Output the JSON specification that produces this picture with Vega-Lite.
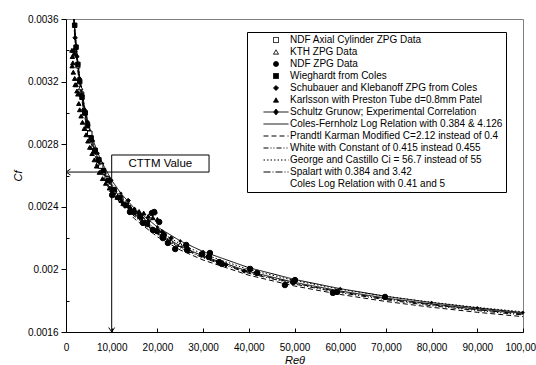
{
  "$schema": "https://vega.github.io/schema/vega-lite/v6.json",
  "width": 457,
  "height": 313,
  "autosize": {"type": "none"},
  "padding": {"left": 66, "top": 19, "right": 13, "bottom": 33},
  "config": {
    "font": "Liberation Sans",
    "view": {"stroke": "#808080", "strokeWidth": 1},
    "axis": {"grid": false, "domainColor": "#000", "tickColor": "#000", "labelColor": "#000", "labelFontSize": 10, "labelFont": "Liberation Sans", "titleFont": "Liberation Sans", "titleFontWeight": "normal", "titleFontStyle": "italic", "titleFontSize": 11, "titleColor": "#000", "labelOverlap": false, "labelFlush": false},
    "legend": {"orient": "none", "legendX": 181, "legendY": 13, "padding": 3, "strokeColor": "#000", "strokeWidth": 1, "fillColor": "#fff", "symbolSize": 25, "symbolStrokeWidth": 1, "labelFont": "Liberation Sans", "labelFontSize": 10, "labelColor": "#000", "rowPadding": 2, "symbolOffset": 21, "labelOffset": 9, "labelLimit": 400}
  },
  "datasets": {
    "lines": [
      {"Re": 1700, "Cf": 0.003622, "series": "Coles-Fernholz Log Relation with 0.384 & 4.126"},
      {"Re": 2000, "Cf": 0.003495, "series": "Coles-Fernholz Log Relation with 0.384 & 4.126"},
      {"Re": 2500, "Cf": 0.003331, "series": "Coles-Fernholz Log Relation with 0.384 & 4.126"},
      {"Re": 3000, "Cf": 0.003206, "series": "Coles-Fernholz Log Relation with 0.384 & 4.126"},
      {"Re": 4000, "Cf": 0.003022, "series": "Coles-Fernholz Log Relation with 0.384 & 4.126"},
      {"Re": 5000, "Cf": 0.00289, "series": "Coles-Fernholz Log Relation with 0.384 & 4.126"},
      {"Re": 6000, "Cf": 0.002788, "series": "Coles-Fernholz Log Relation with 0.384 & 4.126"},
      {"Re": 7000, "Cf": 0.002707, "series": "Coles-Fernholz Log Relation with 0.384 & 4.126"},
      {"Re": 8000, "Cf": 0.002639, "series": "Coles-Fernholz Log Relation with 0.384 & 4.126"},
      {"Re": 10000, "Cf": 0.002531, "series": "Coles-Fernholz Log Relation with 0.384 & 4.126"},
      {"Re": 12000, "Cf": 0.002447, "series": "Coles-Fernholz Log Relation with 0.384 & 4.126"},
      {"Re": 15000, "Cf": 0.002351, "series": "Coles-Fernholz Log Relation with 0.384 & 4.126"},
      {"Re": 20000, "Cf": 0.002235, "series": "Coles-Fernholz Log Relation with 0.384 & 4.126"},
      {"Re": 25000, "Cf": 0.00215, "series": "Coles-Fernholz Log Relation with 0.384 & 4.126"},
      {"Re": 30000, "Cf": 0.002085, "series": "Coles-Fernholz Log Relation with 0.384 & 4.126"},
      {"Re": 40000, "Cf": 0.001987, "series": "Coles-Fernholz Log Relation with 0.384 & 4.126"},
      {"Re": 50000, "Cf": 0.001917, "series": "Coles-Fernholz Log Relation with 0.384 & 4.126"},
      {"Re": 60000, "Cf": 0.001862, "series": "Coles-Fernholz Log Relation with 0.384 & 4.126"},
      {"Re": 70000, "Cf": 0.001817, "series": "Coles-Fernholz Log Relation with 0.384 & 4.126"},
      {"Re": 80000, "Cf": 0.001779, "series": "Coles-Fernholz Log Relation with 0.384 & 4.126"},
      {"Re": 90000, "Cf": 0.001747, "series": "Coles-Fernholz Log Relation with 0.384 & 4.126"},
      {"Re": 100000, "Cf": 0.001719, "series": "Coles-Fernholz Log Relation with 0.384 & 4.126"},
      {"Re": 1700, "Cf": 0.003579, "series": "Prandtl Karman Modified C=2.12 instead of 0.4"},
      {"Re": 2000, "Cf": 0.003453, "series": "Prandtl Karman Modified C=2.12 instead of 0.4"},
      {"Re": 2500, "Cf": 0.003291, "series": "Prandtl Karman Modified C=2.12 instead of 0.4"},
      {"Re": 3000, "Cf": 0.003168, "series": "Prandtl Karman Modified C=2.12 instead of 0.4"},
      {"Re": 4000, "Cf": 0.002986, "series": "Prandtl Karman Modified C=2.12 instead of 0.4"},
      {"Re": 5000, "Cf": 0.002855, "series": "Prandtl Karman Modified C=2.12 instead of 0.4"},
      {"Re": 6000, "Cf": 0.002755, "series": "Prandtl Karman Modified C=2.12 instead of 0.4"},
      {"Re": 7000, "Cf": 0.002675, "series": "Prandtl Karman Modified C=2.12 instead of 0.4"},
      {"Re": 8000, "Cf": 0.002607, "series": "Prandtl Karman Modified C=2.12 instead of 0.4"},
      {"Re": 10000, "Cf": 0.002501, "series": "Prandtl Karman Modified C=2.12 instead of 0.4"},
      {"Re": 12000, "Cf": 0.002418, "series": "Prandtl Karman Modified C=2.12 instead of 0.4"},
      {"Re": 15000, "Cf": 0.002323, "series": "Prandtl Karman Modified C=2.12 instead of 0.4"},
      {"Re": 20000, "Cf": 0.002208, "series": "Prandtl Karman Modified C=2.12 instead of 0.4"},
      {"Re": 25000, "Cf": 0.002124, "series": "Prandtl Karman Modified C=2.12 instead of 0.4"},
      {"Re": 30000, "Cf": 0.00206, "series": "Prandtl Karman Modified C=2.12 instead of 0.4"},
      {"Re": 40000, "Cf": 0.001963, "series": "Prandtl Karman Modified C=2.12 instead of 0.4"},
      {"Re": 50000, "Cf": 0.001894, "series": "Prandtl Karman Modified C=2.12 instead of 0.4"},
      {"Re": 60000, "Cf": 0.00184, "series": "Prandtl Karman Modified C=2.12 instead of 0.4"},
      {"Re": 70000, "Cf": 0.001795, "series": "Prandtl Karman Modified C=2.12 instead of 0.4"},
      {"Re": 80000, "Cf": 0.001758, "series": "Prandtl Karman Modified C=2.12 instead of 0.4"},
      {"Re": 90000, "Cf": 0.001726, "series": "Prandtl Karman Modified C=2.12 instead of 0.4"},
      {"Re": 100000, "Cf": 0.001698, "series": "Prandtl Karman Modified C=2.12 instead of 0.4"},
      {"Re": 1700, "Cf": 0.0036, "series": "White with Constant of 0.415 instead 0.455"},
      {"Re": 2000, "Cf": 0.003474, "series": "White with Constant of 0.415 instead 0.455"},
      {"Re": 2500, "Cf": 0.003311, "series": "White with Constant of 0.415 instead 0.455"},
      {"Re": 3000, "Cf": 0.003187, "series": "White with Constant of 0.415 instead 0.455"},
      {"Re": 4000, "Cf": 0.003004, "series": "White with Constant of 0.415 instead 0.455"},
      {"Re": 5000, "Cf": 0.002873, "series": "White with Constant of 0.415 instead 0.455"},
      {"Re": 6000, "Cf": 0.002771, "series": "White with Constant of 0.415 instead 0.455"},
      {"Re": 7000, "Cf": 0.002691, "series": "White with Constant of 0.415 instead 0.455"},
      {"Re": 8000, "Cf": 0.002623, "series": "White with Constant of 0.415 instead 0.455"},
      {"Re": 10000, "Cf": 0.002516, "series": "White with Constant of 0.415 instead 0.455"},
      {"Re": 12000, "Cf": 0.002432, "series": "White with Constant of 0.415 instead 0.455"},
      {"Re": 15000, "Cf": 0.002337, "series": "White with Constant of 0.415 instead 0.455"},
      {"Re": 20000, "Cf": 0.002222, "series": "White with Constant of 0.415 instead 0.455"},
      {"Re": 25000, "Cf": 0.002137, "series": "White with Constant of 0.415 instead 0.455"},
      {"Re": 30000, "Cf": 0.002073, "series": "White with Constant of 0.415 instead 0.455"},
      {"Re": 40000, "Cf": 0.001975, "series": "White with Constant of 0.415 instead 0.455"},
      {"Re": 50000, "Cf": 0.001906, "series": "White with Constant of 0.415 instead 0.455"},
      {"Re": 60000, "Cf": 0.001851, "series": "White with Constant of 0.415 instead 0.455"},
      {"Re": 70000, "Cf": 0.001806, "series": "White with Constant of 0.415 instead 0.455"},
      {"Re": 80000, "Cf": 0.001768, "series": "White with Constant of 0.415 instead 0.455"},
      {"Re": 90000, "Cf": 0.001737, "series": "White with Constant of 0.415 instead 0.455"},
      {"Re": 100000, "Cf": 0.001709, "series": "White with Constant of 0.415 instead 0.455"},
      {"Re": 1700, "Cf": 0.003644, "series": "George and Castillo Ci = 56.7 instead of 55"},
      {"Re": 2000, "Cf": 0.003516, "series": "George and Castillo Ci = 56.7 instead of 55"},
      {"Re": 2500, "Cf": 0.003351, "series": "George and Castillo Ci = 56.7 instead of 55"},
      {"Re": 3000, "Cf": 0.003225, "series": "George and Castillo Ci = 56.7 instead of 55"},
      {"Re": 4000, "Cf": 0.00304, "series": "George and Castillo Ci = 56.7 instead of 55"},
      {"Re": 5000, "Cf": 0.002907, "series": "George and Castillo Ci = 56.7 instead of 55"},
      {"Re": 6000, "Cf": 0.002805, "series": "George and Castillo Ci = 56.7 instead of 55"},
      {"Re": 7000, "Cf": 0.002723, "series": "George and Castillo Ci = 56.7 instead of 55"},
      {"Re": 8000, "Cf": 0.002655, "series": "George and Castillo Ci = 56.7 instead of 55"},
      {"Re": 10000, "Cf": 0.002546, "series": "George and Castillo Ci = 56.7 instead of 55"},
      {"Re": 12000, "Cf": 0.002462, "series": "George and Castillo Ci = 56.7 instead of 55"},
      {"Re": 15000, "Cf": 0.002365, "series": "George and Castillo Ci = 56.7 instead of 55"},
      {"Re": 20000, "Cf": 0.002248, "series": "George and Castillo Ci = 56.7 instead of 55"},
      {"Re": 25000, "Cf": 0.002163, "series": "George and Castillo Ci = 56.7 instead of 55"},
      {"Re": 30000, "Cf": 0.002098, "series": "George and Castillo Ci = 56.7 instead of 55"},
      {"Re": 40000, "Cf": 0.001999, "series": "George and Castillo Ci = 56.7 instead of 55"},
      {"Re": 50000, "Cf": 0.001929, "series": "George and Castillo Ci = 56.7 instead of 55"},
      {"Re": 60000, "Cf": 0.001873, "series": "George and Castillo Ci = 56.7 instead of 55"},
      {"Re": 70000, "Cf": 0.001828, "series": "George and Castillo Ci = 56.7 instead of 55"},
      {"Re": 80000, "Cf": 0.00179, "series": "George and Castillo Ci = 56.7 instead of 55"},
      {"Re": 90000, "Cf": 0.001757, "series": "George and Castillo Ci = 56.7 instead of 55"},
      {"Re": 100000, "Cf": 0.001729, "series": "George and Castillo Ci = 56.7 instead of 55"},
      {"Re": 1700, "Cf": 0.003611, "series": "Spalart with 0.384 and 3.42"},
      {"Re": 2000, "Cf": 0.003485, "series": "Spalart with 0.384 and 3.42"},
      {"Re": 2500, "Cf": 0.003321, "series": "Spalart with 0.384 and 3.42"},
      {"Re": 3000, "Cf": 0.003196, "series": "Spalart with 0.384 and 3.42"},
      {"Re": 4000, "Cf": 0.003013, "series": "Spalart with 0.384 and 3.42"},
      {"Re": 5000, "Cf": 0.002881, "series": "Spalart with 0.384 and 3.42"},
      {"Re": 6000, "Cf": 0.00278, "series": "Spalart with 0.384 and 3.42"},
      {"Re": 7000, "Cf": 0.002699, "series": "Spalart with 0.384 and 3.42"},
      {"Re": 8000, "Cf": 0.002631, "series": "Spalart with 0.384 and 3.42"},
      {"Re": 10000, "Cf": 0.002523, "series": "Spalart with 0.384 and 3.42"},
      {"Re": 12000, "Cf": 0.00244, "series": "Spalart with 0.384 and 3.42"},
      {"Re": 15000, "Cf": 0.002344, "series": "Spalart with 0.384 and 3.42"},
      {"Re": 20000, "Cf": 0.002228, "series": "Spalart with 0.384 and 3.42"},
      {"Re": 25000, "Cf": 0.002144, "series": "Spalart with 0.384 and 3.42"},
      {"Re": 30000, "Cf": 0.002079, "series": "Spalart with 0.384 and 3.42"},
      {"Re": 40000, "Cf": 0.001981, "series": "Spalart with 0.384 and 3.42"},
      {"Re": 50000, "Cf": 0.001911, "series": "Spalart with 0.384 and 3.42"},
      {"Re": 60000, "Cf": 0.001856, "series": "Spalart with 0.384 and 3.42"},
      {"Re": 70000, "Cf": 0.001812, "series": "Spalart with 0.384 and 3.42"},
      {"Re": 80000, "Cf": 0.001774, "series": "Spalart with 0.384 and 3.42"},
      {"Re": 90000, "Cf": 0.001742, "series": "Spalart with 0.384 and 3.42"},
      {"Re": 100000, "Cf": 0.001714, "series": "Spalart with 0.384 and 3.42"},
      {"Re": 1700, "Cf": 0.003629, "series": "Schultz Grunow; Experimental Correlation"},
      {"Re": 2000, "Cf": 0.003509, "series": "Schultz Grunow; Experimental Correlation"},
      {"Re": 2500, "Cf": 0.003351, "series": "Schultz Grunow; Experimental Correlation"},
      {"Re": 3000, "Cf": 0.003228, "series": "Schultz Grunow; Experimental Correlation"},
      {"Re": 4000, "Cf": 0.003049, "series": "Schultz Grunow; Experimental Correlation"},
      {"Re": 5000, "Cf": 0.002922, "series": "Schultz Grunow; Experimental Correlation"},
      {"Re": 6000, "Cf": 0.002821, "series": "Schultz Grunow; Experimental Correlation"},
      {"Re": 7000, "Cf": 0.002742, "series": "Schultz Grunow; Experimental Correlation"},
      {"Re": 8000, "Cf": 0.002676, "series": "Schultz Grunow; Experimental Correlation"},
      {"Re": 10000, "Cf": 0.002569, "series": "Schultz Grunow; Experimental Correlation"},
      {"Re": 12000, "Cf": 0.002486, "series": "Schultz Grunow; Experimental Correlation"},
      {"Re": 15000, "Cf": 0.002389, "series": "Schultz Grunow; Experimental Correlation"},
      {"Re": 20000, "Cf": 0.002271, "series": "Schultz Grunow; Experimental Correlation"},
      {"Re": 25000, "Cf": 0.002182, "series": "Schultz Grunow; Experimental Correlation"},
      {"Re": 30000, "Cf": 0.002114, "series": "Schultz Grunow; Experimental Correlation"},
      {"Re": 40000, "Cf": 0.002011, "series": "Schultz Grunow; Experimental Correlation"},
      {"Re": 50000, "Cf": 0.001936, "series": "Schultz Grunow; Experimental Correlation"},
      {"Re": 60000, "Cf": 0.001877, "series": "Schultz Grunow; Experimental Correlation"},
      {"Re": 70000, "Cf": 0.001828, "series": "Schultz Grunow; Experimental Correlation"},
      {"Re": 80000, "Cf": 0.001788, "series": "Schultz Grunow; Experimental Correlation"},
      {"Re": 90000, "Cf": 0.001754, "series": "Schultz Grunow; Experimental Correlation"},
      {"Re": 100000, "Cf": 0.001724, "series": "Schultz Grunow; Experimental Correlation"}
    ],
    "points": [
      {"Re": 3400, "Cf": 0.00312, "series": "NDF Axial Cylinder ZPG Data"},
      {"Re": 4200, "Cf": 0.003, "series": "NDF Axial Cylinder ZPG Data"},
      {"Re": 5200, "Cf": 0.00287, "series": "NDF Axial Cylinder ZPG Data"},
      {"Re": 6400, "Cf": 0.00276, "series": "NDF Axial Cylinder ZPG Data"},
      {"Re": 7600, "Cf": 0.00266, "series": "NDF Axial Cylinder ZPG Data"},
      {"Re": 9000, "Cf": 0.00258, "series": "NDF Axial Cylinder ZPG Data"},
      {"Re": 10500, "Cf": 0.0025, "series": "NDF Axial Cylinder ZPG Data"},
      {"Re": 12000, "Cf": 0.00245, "series": "NDF Axial Cylinder ZPG Data"},
      {"Re": 2600, "Cf": 0.0033, "series": "KTH ZPG Data"},
      {"Re": 3200, "Cf": 0.00316, "series": "KTH ZPG Data"},
      {"Re": 3900, "Cf": 0.00303, "series": "KTH ZPG Data"},
      {"Re": 4800, "Cf": 0.0029, "series": "KTH ZPG Data"},
      {"Re": 5800, "Cf": 0.00278, "series": "KTH ZPG Data"},
      {"Re": 7000, "Cf": 0.00268, "series": "KTH ZPG Data"},
      {"Re": 8300, "Cf": 0.00262, "series": "KTH ZPG Data"},
      {"Re": 9600, "Cf": 0.00254, "series": "KTH ZPG Data"},
      {"Re": 11000, "Cf": 0.00248, "series": "KTH ZPG Data"},
      {"Re": 12500, "Cf": 0.00242, "series": "KTH ZPG Data"},
      {"Re": 14000, "Cf": 0.00238, "series": "KTH ZPG Data"},
      {"Re": 15500, "Cf": 0.00236, "series": "KTH ZPG Data"},
      {"Re": 17000, "Cf": 0.00232, "series": "KTH ZPG Data"},
      {"Re": 19000, "Cf": 0.00226, "series": "KTH ZPG Data"},
      {"Re": 21000, "Cf": 0.00222, "series": "KTH ZPG Data"},
      {"Re": 23000, "Cf": 0.00218, "series": "KTH ZPG Data"},
      {"Re": 25000, "Cf": 0.00216, "series": "KTH ZPG Data"},
      {"Re": 27000, "Cf": 0.00212, "series": "KTH ZPG Data"},
      {"Re": 10100, "Cf": 0.002475, "series": "NDF ZPG Data"},
      {"Re": 14000, "Cf": 0.002367, "series": "NDF ZPG Data"},
      {"Re": 16850, "Cf": 0.002297, "series": "NDF ZPG Data"},
      {"Re": 18800, "Cf": 0.00236, "series": "NDF ZPG Data"},
      {"Re": 19300, "Cf": 0.002367, "series": "NDF ZPG Data"},
      {"Re": 20400, "Cf": 0.002303, "series": "NDF ZPG Data"},
      {"Re": 19000, "Cf": 0.002252, "series": "NDF ZPG Data"},
      {"Re": 19900, "Cf": 0.002245, "series": "NDF ZPG Data"},
      {"Re": 21400, "Cf": 0.00222, "series": "NDF ZPG Data"},
      {"Re": 21200, "Cf": 0.0022, "series": "NDF ZPG Data"},
      {"Re": 22300, "Cf": 0.002169, "series": "NDF ZPG Data"},
      {"Re": 23900, "Cf": 0.00213, "series": "NDF ZPG Data"},
      {"Re": 26300, "Cf": 0.002156, "series": "NDF ZPG Data"},
      {"Re": 26500, "Cf": 0.002124, "series": "NDF ZPG Data"},
      {"Re": 29800, "Cf": 0.002098, "series": "NDF ZPG Data"},
      {"Re": 31500, "Cf": 0.002105, "series": "NDF ZPG Data"},
      {"Re": 31300, "Cf": 0.002079, "series": "NDF ZPG Data"},
      {"Re": 33500, "Cf": 0.002047, "series": "NDF ZPG Data"},
      {"Re": 34100, "Cf": 0.002035, "series": "NDF ZPG Data"},
      {"Re": 40300, "Cf": 0.002003, "series": "NDF ZPG Data"},
      {"Re": 41800, "Cf": 0.001977, "series": "NDF ZPG Data"},
      {"Re": 47900, "Cf": 0.0019, "series": "NDF ZPG Data"},
      {"Re": 49700, "Cf": 0.00192, "series": "NDF ZPG Data"},
      {"Re": 50100, "Cf": 0.001932, "series": "NDF ZPG Data"},
      {"Re": 58400, "Cf": 0.00185, "series": "NDF ZPG Data"},
      {"Re": 59300, "Cf": 0.001856, "series": "NDF ZPG Data"},
      {"Re": 69800, "Cf": 0.001824, "series": "NDF ZPG Data"},
      {"Re": 1900, "Cf": 0.00356, "series": "Wieghardt from Coles"},
      {"Re": 2200, "Cf": 0.00342, "series": "Wieghardt from Coles"},
      {"Re": 2600, "Cf": 0.00331, "series": "Wieghardt from Coles"},
      {"Re": 3000, "Cf": 0.0032, "series": "Wieghardt from Coles"},
      {"Re": 3500, "Cf": 0.0031, "series": "Wieghardt from Coles"},
      {"Re": 4100, "Cf": 0.003, "series": "Wieghardt from Coles"},
      {"Re": 4700, "Cf": 0.00292, "series": "Wieghardt from Coles"},
      {"Re": 5500, "Cf": 0.00284, "series": "Wieghardt from Coles"},
      {"Re": 6300, "Cf": 0.00276, "series": "Wieghardt from Coles"},
      {"Re": 7200, "Cf": 0.0027, "series": "Wieghardt from Coles"},
      {"Re": 8200, "Cf": 0.00263, "series": "Wieghardt from Coles"},
      {"Re": 9300, "Cf": 0.00257, "series": "Wieghardt from Coles"},
      {"Re": 10500, "Cf": 0.00251, "series": "Wieghardt from Coles"},
      {"Re": 11800, "Cf": 0.00246, "series": "Wieghardt from Coles"},
      {"Re": 13200, "Cf": 0.00241, "series": "Wieghardt from Coles"},
      {"Re": 14600, "Cf": 0.00237, "series": "Wieghardt from Coles"},
      {"Re": 16200, "Cf": 0.00234, "series": "Wieghardt from Coles"},
      {"Re": 17800, "Cf": 0.00229, "series": "Wieghardt from Coles"},
      {"Re": 2000, "Cf": 0.00348, "series": "Schubauer and Klebanoff ZPG from Coles"},
      {"Re": 2400, "Cf": 0.00336, "series": "Schubauer and Klebanoff ZPG from Coles"},
      {"Re": 2900, "Cf": 0.00322, "series": "Schubauer and Klebanoff ZPG from Coles"},
      {"Re": 3400, "Cf": 0.00312, "series": "Schubauer and Klebanoff ZPG from Coles"},
      {"Re": 4000, "Cf": 0.00302, "series": "Schubauer and Klebanoff ZPG from Coles"},
      {"Re": 4700, "Cf": 0.00294, "series": "Schubauer and Klebanoff ZPG from Coles"},
      {"Re": 5500, "Cf": 0.00283, "series": "Schubauer and Klebanoff ZPG from Coles"},
      {"Re": 6300, "Cf": 0.00275, "series": "Schubauer and Klebanoff ZPG from Coles"},
      {"Re": 7100, "Cf": 0.00269, "series": "Schubauer and Klebanoff ZPG from Coles"},
      {"Re": 8000, "Cf": 0.00263, "series": "Schubauer and Klebanoff ZPG from Coles"},
      {"Re": 9000, "Cf": 0.00257, "series": "Schubauer and Klebanoff ZPG from Coles"},
      {"Re": 10000, "Cf": 0.0025, "series": "Schubauer and Klebanoff ZPG from Coles"},
      {"Re": 11200, "Cf": 0.00246, "series": "Schubauer and Klebanoff ZPG from Coles"},
      {"Re": 12500, "Cf": 0.00242, "series": "Schubauer and Klebanoff ZPG from Coles"},
      {"Re": 13600, "Cf": 0.00244, "series": "Schubauer and Klebanoff ZPG from Coles"},
      {"Re": 15000, "Cf": 0.00236, "series": "Schubauer and Klebanoff ZPG from Coles"},
      {"Re": 16500, "Cf": 0.00233, "series": "Schubauer and Klebanoff ZPG from Coles"},
      {"Re": 18000, "Cf": 0.00231, "series": "Schubauer and Klebanoff ZPG from Coles"},
      {"Re": 19500, "Cf": 0.00236, "series": "Schubauer and Klebanoff ZPG from Coles"},
      {"Re": 21000, "Cf": 0.00224, "series": "Schubauer and Klebanoff ZPG from Coles"},
      {"Re": 23000, "Cf": 0.0022, "series": "Schubauer and Klebanoff ZPG from Coles"},
      {"Re": 26500, "Cf": 0.00214, "series": "Schubauer and Klebanoff ZPG from Coles"},
      {"Re": 31000, "Cf": 0.00208, "series": "Schubauer and Klebanoff ZPG from Coles"},
      {"Re": 35000, "Cf": 0.00203, "series": "Schubauer and Klebanoff ZPG from Coles"},
      {"Re": 39000, "Cf": 0.00199, "series": "Schubauer and Klebanoff ZPG from Coles"},
      {"Re": 1300, "Cf": 0.0034, "series": "Karlsson with Preston Tube d=0.8mm Patel"},
      {"Re": 1400, "Cf": 0.00336, "series": "Karlsson with Preston Tube d=0.8mm Patel"},
      {"Re": 1500, "Cf": 0.00332, "series": "Karlsson with Preston Tube d=0.8mm Patel"},
      {"Re": 1350, "Cf": 0.0033, "series": "Karlsson with Preston Tube d=0.8mm Patel"},
      {"Re": 1600, "Cf": 0.00326, "series": "Karlsson with Preston Tube d=0.8mm Patel"},
      {"Re": 1700, "Cf": 0.0034, "series": "Karlsson with Preston Tube d=0.8mm Patel"},
      {"Re": 1800, "Cf": 0.00338, "series": "Karlsson with Preston Tube d=0.8mm Patel"},
      {"Re": 1900, "Cf": 0.00322, "series": "Karlsson with Preston Tube d=0.8mm Patel"},
      {"Re": 2000, "Cf": 0.00318, "series": "Karlsson with Preston Tube d=0.8mm Patel"},
      {"Re": 2200, "Cf": 0.00318, "series": "Karlsson with Preston Tube d=0.8mm Patel"},
      {"Re": 2400, "Cf": 0.00314, "series": "Karlsson with Preston Tube d=0.8mm Patel"},
      {"Re": 2600, "Cf": 0.00312, "series": "Karlsson with Preston Tube d=0.8mm Patel"},
      {"Re": 2800, "Cf": 0.00306, "series": "Karlsson with Preston Tube d=0.8mm Patel"},
      {"Re": 3000, "Cf": 0.00302, "series": "Karlsson with Preston Tube d=0.8mm Patel"},
      {"Re": 3300, "Cf": 0.00298, "series": "Karlsson with Preston Tube d=0.8mm Patel"},
      {"Re": 3600, "Cf": 0.00294, "series": "Karlsson with Preston Tube d=0.8mm Patel"},
      {"Re": 4000, "Cf": 0.0029, "series": "Karlsson with Preston Tube d=0.8mm Patel"},
      {"Re": 4400, "Cf": 0.00286, "series": "Karlsson with Preston Tube d=0.8mm Patel"},
      {"Re": 4800, "Cf": 0.00282, "series": "Karlsson with Preston Tube d=0.8mm Patel"},
      {"Re": 5200, "Cf": 0.00278, "series": "Karlsson with Preston Tube d=0.8mm Patel"},
      {"Re": 5700, "Cf": 0.00274, "series": "Karlsson with Preston Tube d=0.8mm Patel"},
      {"Re": 6200, "Cf": 0.0027, "series": "Karlsson with Preston Tube d=0.8mm Patel"},
      {"Re": 6700, "Cf": 0.00266, "series": "Karlsson with Preston Tube d=0.8mm Patel"},
      {"Re": 7300, "Cf": 0.00262, "series": "Karlsson with Preston Tube d=0.8mm Patel"},
      {"Re": 8000, "Cf": 0.00258, "series": "Karlsson with Preston Tube d=0.8mm Patel"},
      {"Re": 8700, "Cf": 0.00255, "series": "Karlsson with Preston Tube d=0.8mm Patel"},
      {"Re": 9500, "Cf": 0.00252, "series": "Karlsson with Preston Tube d=0.8mm Patel"},
      {"Re": 10300, "Cf": 0.00249, "series": "Karlsson with Preston Tube d=0.8mm Patel"},
      {"Re": 11200, "Cf": 0.00246, "series": "Karlsson with Preston Tube d=0.8mm Patel"},
      {"Re": 12100, "Cf": 0.00244, "series": "Karlsson with Preston Tube d=0.8mm Patel"},
      {"Re": 13000, "Cf": 0.00242, "series": "Karlsson with Preston Tube d=0.8mm Patel"},
      {"Re": 14000, "Cf": 0.0024, "series": "Karlsson with Preston Tube d=0.8mm Patel"},
      {"Re": 15000, "Cf": 0.00238, "series": "Karlsson with Preston Tube d=0.8mm Patel"},
      {"Re": 16000, "Cf": 0.00237, "series": "Karlsson with Preston Tube d=0.8mm Patel"},
      {"Re": 17000, "Cf": 0.00236, "series": "Karlsson with Preston Tube d=0.8mm Patel"},
      {"Re": 18000, "Cf": 0.00234, "series": "Karlsson with Preston Tube d=0.8mm Patel"},
      {"Re": 19000, "Cf": 0.00233, "series": "Karlsson with Preston Tube d=0.8mm Patel"},
      {"Re": 20000, "Cf": 0.00232, "series": "Karlsson with Preston Tube d=0.8mm Patel"}
    ],
    "box": [
      {"Re": 10000, "Re2": 31300, "Cf": 0.002622, "Cf2": 0.002731}
    ],
    "label": [
      {"Re": 20650, "Cf": 0.0026765, "text": "CTTM Value"}
    ],
    "arrows": [
      {"Re": 0, "Re2": 10000, "Cf": 0.002622, "Cf2": 0.002622},
      {"Re": 10000, "Re2": 10000, "Cf": 0.002622, "Cf2": 0.0016}
    ],
    "heads": [
      {"Re": 0, "Cf": 0.002622, "dir": "left"},
      {"Re": 10000, "Cf": 0.0016, "dir": "down"}
    ]
  },
  "resolve": {"axis": {"y": "independent"}},
  "layer": [
    {
      "data": {"name": "box"},
      "mark": {"type": "rect", "fill": "#fff", "stroke": "#000", "strokeWidth": 1},
      "encoding": {
        "x": {"field": "Re", "type": "quantitative", "title": "Reθ", "scale": {"domain": [0, 100000], "nice": false, "zero": false},
          "axis": {"values": [0, 10000, 20000, 30000, 40000, 50000, 60000, 70000, 80000, 90000, 100000], "labelExpr": "format(datum.value, ',')", "labelOverlap": false, "labelFlush": false, "tickSize": -4, "labelPadding": 14, "titlePadding": 2}},
        "x2": {"field": "Re2"},
        "y": {"field": "Cf", "type": "quantitative", "scale": {"domain": [0.0016, 0.0036], "nice": false, "zero": false}, "axis": null},
        "y2": {"field": "Cf2"}
      }
    },
    {
      "data": {"name": "label"},
      "mark": {"type": "text", "font": "Liberation Sans", "fontSize": 11.5, "color": "#000", "align": "center", "baseline": "middle"},
      "encoding": {
        "x": {"field": "Re", "type": "quantitative", "title": "Reθ"},
        "y": {"field": "Cf", "type": "quantitative", "axis": null},
        "text": {"field": "text"}
      }
    },
    {
      "data": {"name": "arrows"},
      "mark": {"type": "rule", "color": "#000", "strokeWidth": 1},
      "encoding": {
        "x": {"field": "Re", "type": "quantitative", "title": "Reθ"},
        "x2": {"field": "Re2"},
        "y": {"field": "Cf", "type": "quantitative", "axis": null},
        "y2": {"field": "Cf2"}
      }
    },
    {
      "data": {"name": "heads"},
      "transform": [{"filter": "datum.dir === 'left'"}],
      "mark": {"type": "point", "shape": "M3,-2L0,0L3,2", "size": 9, "filled": false, "stroke": "#000", "strokeWidth": 1, "opacity": 1},
      "encoding": {
        "x": {"field": "Re", "type": "quantitative", "title": "Reθ"},
        "y": {"field": "Cf", "type": "quantitative", "axis": null}
      }
    },
    {
      "data": {"name": "heads"},
      "transform": [{"filter": "datum.dir === 'down'"}],
      "mark": {"type": "point", "shape": "M-2,-3L0,0L2,-3", "size": 9, "filled": false, "stroke": "#000", "strokeWidth": 1, "opacity": 1},
      "encoding": {
        "x": {"field": "Re", "type": "quantitative", "title": "Reθ"},
        "y": {"field": "Cf", "type": "quantitative", "axis": null}
      }
    },
    {
      "data": {"name": "lines"},
      "mark": {"type": "line", "strokeWidth": 1, "clip": true},
      "encoding": {
        "x": {"field": "Re", "type": "quantitative", "title": "Reθ"},
        "y": {"field": "Cf", "type": "quantitative", "title": "Cf", "axis": {"orient": "left", "values": [0.0016, 0.0018, 0.002, 0.0022, 0.0024, 0.0026, 0.0028, 0.003, 0.0032, 0.0034, 0.0036], "format": "~g", "labelExpr": "round(datum.value * 10000) % 4 === 0 ? datum.label : ''", "tickSize": {"condition": {"test": "round(datum.value * 10000) % 4 !== 0", "value": -3}, "value": 5}, "labelPadding": 3, "titlePadding": 4}},
        "detail": {"field": "series"},
        "stroke": {"field": "series", "type": "nominal", "title": null,
          "scale": {"domain": ["NDF Axial Cylinder ZPG Data", "KTH ZPG Data", "NDF ZPG Data", "Wieghardt from Coles", "Schubauer and Klebanoff ZPG from Coles", "Karlsson with Preston Tube d=0.8mm Patel", "Schultz Grunow; Experimental Correlation", "Coles-Fernholz Log Relation with 0.384 & 4.126", "Prandtl Karman Modified C=2.12 instead of 0.4", "White with Constant of 0.415 instead 0.455", "George and Castillo Ci = 56.7 instead of 55", "Spalart with 0.384 and 3.42", "Coles Log Relation with 0.41 and 5"],
            "range": ["#000", "#000", "#000", "#000", "#000", "#000", "#000", "#000", "#000", "#000", "#000", "#000", "transparent"]}},
        "strokeDash": {"field": "series", "type": "nominal", "title": null,
          "scale": {"domain": ["NDF Axial Cylinder ZPG Data", "KTH ZPG Data", "NDF ZPG Data", "Wieghardt from Coles", "Schubauer and Klebanoff ZPG from Coles", "Karlsson with Preston Tube d=0.8mm Patel", "Schultz Grunow; Experimental Correlation", "Coles-Fernholz Log Relation with 0.384 & 4.126", "Prandtl Karman Modified C=2.12 instead of 0.4", "White with Constant of 0.415 instead 0.455", "George and Castillo Ci = 56.7 instead of 55", "Spalart with 0.384 and 3.42", "Coles Log Relation with 0.41 and 5"],
            "range": [[1, 0], [1, 0], [1, 0], [1, 0], [1, 0], [1, 0], [1, 0], [1, 0], [5, 3], [5, 2, 1, 2, 1, 2], [1.5, 2], [7, 2, 1, 2], [1, 0]]}}
      }
    },
    {
      "data": {"name": "lines"},
      "transform": [{"filter": "datum.series === 'Schultz Grunow; Experimental Correlation' && datum.Re >= 5000"}],
      "mark": {"type": "point", "shape": "diamond", "filled": true, "size": 14, "color": "#000", "opacity": 1},
      "encoding": {
        "x": {"field": "Re", "type": "quantitative", "title": "Reθ"},
        "y": {"field": "Cf", "type": "quantitative", "axis": null}
      }
    },
    {
      "data": {"name": "points"},
      "transform": [{"filter": "datum.series !== 'NDF ZPG Data'"}],
      "mark": {"type": "point", "size": 20, "strokeWidth": 1, "opacity": 1},
      "encoding": {
        "x": {"field": "Re", "type": "quantitative", "title": "Reθ"},
        "y": {"field": "Cf", "type": "quantitative", "axis": null},
        "shape": {"field": "series", "type": "nominal", "title": null,
          "scale": {"domain": ["NDF Axial Cylinder ZPG Data", "KTH ZPG Data", "NDF ZPG Data", "Wieghardt from Coles", "Schubauer and Klebanoff ZPG from Coles", "Karlsson with Preston Tube d=0.8mm Patel", "Schultz Grunow; Experimental Correlation", "Coles-Fernholz Log Relation with 0.384 & 4.126", "Prandtl Karman Modified C=2.12 instead of 0.4", "White with Constant of 0.415 instead 0.455", "George and Castillo Ci = 56.7 instead of 55", "Spalart with 0.384 and 3.42", "Coles Log Relation with 0.41 and 5"],
            "range": ["square", "triangle-up", "circle", "square", "diamond", "triangle-up", "M-5,0H5M0,-1.2L0.9,0L0,1.2L-0.9,0Z", "M-5,0H5", "M-5,0H5", "M-5,0H5", "M-5,0H5", "M-5,0H5", "M-5,0H5"]}},
        "fill": {"field": "series", "type": "nominal", "title": null,
          "scale": {"domain": ["NDF Axial Cylinder ZPG Data", "KTH ZPG Data", "NDF ZPG Data", "Wieghardt from Coles", "Schubauer and Klebanoff ZPG from Coles", "Karlsson with Preston Tube d=0.8mm Patel", "Schultz Grunow; Experimental Correlation", "Coles-Fernholz Log Relation with 0.384 & 4.126", "Prandtl Karman Modified C=2.12 instead of 0.4", "White with Constant of 0.415 instead 0.455", "George and Castillo Ci = 56.7 instead of 55", "Spalart with 0.384 and 3.42", "Coles Log Relation with 0.41 and 5"],
            "range": ["#fff", "#fff", "#000", "#000", "#000", "#000", "#000", "#000", "#000", "#000", "#000", "#000", "transparent"]}},
        "stroke": {"field": "series", "type": "nominal", "title": null}
      }
    },
    {
      "data": {"name": "points"},
      "transform": [{"filter": "datum.series === 'NDF ZPG Data'"}],
      "mark": {"type": "point", "size": 30, "strokeWidth": 1, "opacity": 1},
      "encoding": {
        "x": {"field": "Re", "type": "quantitative", "title": "Reθ"},
        "y": {"field": "Cf", "type": "quantitative", "axis": null},
        "shape": {"field": "series", "type": "nominal", "title": null},
        "fill": {"field": "series", "type": "nominal", "title": null},
        "stroke": {"field": "series", "type": "nominal", "title": null}
      }
    }
  ]
}
